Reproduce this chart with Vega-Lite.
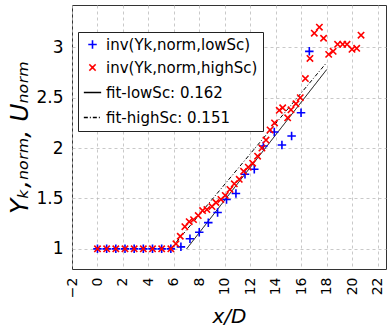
{
  "$schema": "https://vega.github.io/schema/vega-lite/v6.json",
  "width": 314,
  "height": 264,
  "autosize": {"type": "none"},
  "padding": {"left": 72, "top": 5, "right": 2, "bottom": 67},
  "background": "white",
  "config": {
    "font": "DejaVu Sans",
    "view": {"stroke": "#333333", "strokeWidth": 1},
    "axis": {
      "grid": true,
      "gridDash": [3, 3],
      "gridColor": "#bbbbbb",
      "gridWidth": 0.8,
      "domain": false,
      "ticks": false,
      "labelColor": "black",
      "titleColor": "black",
      "titleFontWeight": "normal",
      "titleFontStyle": "italic",
      "labelOverlap": false,
      "labelFlush": false
    }
  },
  "datasets": {
    "pts": [
      {"series": "inv(Yk,norm,lowSc)", "x": 0, "y": 1},
      {"series": "inv(Yk,norm,lowSc)", "x": 0.72, "y": 1},
      {"series": "inv(Yk,norm,lowSc)", "x": 1.44, "y": 1},
      {"series": "inv(Yk,norm,lowSc)", "x": 2.16, "y": 1},
      {"series": "inv(Yk,norm,lowSc)", "x": 2.88, "y": 1},
      {"series": "inv(Yk,norm,lowSc)", "x": 3.6, "y": 1},
      {"series": "inv(Yk,norm,lowSc)", "x": 4.32, "y": 1},
      {"series": "inv(Yk,norm,lowSc)", "x": 5.04, "y": 1},
      {"series": "inv(Yk,norm,lowSc)", "x": 5.76, "y": 1},
      {"series": "inv(Yk,norm,lowSc)", "x": 6.55, "y": 1.02},
      {"series": "inv(Yk,norm,lowSc)", "x": 7.26, "y": 1.1},
      {"series": "inv(Yk,norm,lowSc)", "x": 7.99, "y": 1.165},
      {"series": "inv(Yk,norm,lowSc)", "x": 8.7, "y": 1.26},
      {"series": "inv(Yk,norm,lowSc)", "x": 9.43, "y": 1.36},
      {"series": "inv(Yk,norm,lowSc)", "x": 10.13, "y": 1.49},
      {"series": "inv(Yk,norm,lowSc)", "x": 10.87, "y": 1.55},
      {"series": "inv(Yk,norm,lowSc)", "x": 11.58, "y": 1.74},
      {"series": "inv(Yk,norm,lowSc)", "x": 12.31, "y": 1.79},
      {"series": "inv(Yk,norm,lowSc)", "x": 13.02, "y": 2.02},
      {"series": "inv(Yk,norm,lowSc)", "x": 13.88, "y": 2.16},
      {"series": "inv(Yk,norm,lowSc)", "x": 14.48, "y": 2.03},
      {"series": "inv(Yk,norm,lowSc)", "x": 15.24, "y": 2.12},
      {"series": "inv(Yk,norm,lowSc)", "x": 15.98, "y": 2.35},
      {"series": "inv(Yk,norm,lowSc)", "x": 16.63, "y": 2.96},
      {"series": "inv(Yk,norm,highSc)", "x": 0, "y": 1},
      {"series": "inv(Yk,norm,highSc)", "x": 0.72, "y": 1},
      {"series": "inv(Yk,norm,highSc)", "x": 1.44, "y": 1},
      {"series": "inv(Yk,norm,highSc)", "x": 2.16, "y": 1},
      {"series": "inv(Yk,norm,highSc)", "x": 2.88, "y": 1},
      {"series": "inv(Yk,norm,highSc)", "x": 3.6, "y": 1},
      {"series": "inv(Yk,norm,highSc)", "x": 4.32, "y": 1},
      {"series": "inv(Yk,norm,highSc)", "x": 5.04, "y": 1},
      {"series": "inv(Yk,norm,highSc)", "x": 5.76, "y": 1},
      {"series": "inv(Yk,norm,highSc)", "x": 6.16, "y": 1.05},
      {"series": "inv(Yk,norm,highSc)", "x": 6.5, "y": 1.125},
      {"series": "inv(Yk,norm,highSc)", "x": 6.86, "y": 1.22},
      {"series": "inv(Yk,norm,highSc)", "x": 7.2, "y": 1.27},
      {"series": "inv(Yk,norm,highSc)", "x": 7.54, "y": 1.29},
      {"series": "inv(Yk,norm,highSc)", "x": 7.91, "y": 1.33},
      {"series": "inv(Yk,norm,highSc)", "x": 8.25, "y": 1.38},
      {"series": "inv(Yk,norm,highSc)", "x": 8.59, "y": 1.39},
      {"series": "inv(Yk,norm,highSc)", "x": 8.99, "y": 1.42},
      {"series": "inv(Yk,norm,highSc)", "x": 9.3, "y": 1.46},
      {"series": "inv(Yk,norm,highSc)", "x": 9.69, "y": 1.49},
      {"series": "inv(Yk,norm,highSc)", "x": 10.03, "y": 1.53},
      {"series": "inv(Yk,norm,highSc)", "x": 10.4, "y": 1.59},
      {"series": "inv(Yk,norm,highSc)", "x": 10.74, "y": 1.645},
      {"series": "inv(Yk,norm,highSc)", "x": 11.13, "y": 1.69},
      {"series": "inv(Yk,norm,highSc)", "x": 11.47, "y": 1.77},
      {"series": "inv(Yk,norm,highSc)", "x": 11.84, "y": 1.81},
      {"series": "inv(Yk,norm,highSc)", "x": 12.18, "y": 1.85},
      {"series": "inv(Yk,norm,highSc)", "x": 12.57, "y": 1.92},
      {"series": "inv(Yk,norm,highSc)", "x": 12.91, "y": 2.0},
      {"series": "inv(Yk,norm,highSc)", "x": 13.23, "y": 2.08},
      {"series": "inv(Yk,norm,highSc)", "x": 13.55, "y": 2.18},
      {"series": "inv(Yk,norm,highSc)", "x": 13.9, "y": 2.25},
      {"series": "inv(Yk,norm,highSc)", "x": 14.27, "y": 2.375},
      {"series": "inv(Yk,norm,highSc)", "x": 14.54, "y": 2.4},
      {"series": "inv(Yk,norm,highSc)", "x": 14.93, "y": 2.3},
      {"series": "inv(Yk,norm,highSc)", "x": 15.19, "y": 2.38},
      {"series": "inv(Yk,norm,highSc)", "x": 15.58, "y": 2.44},
      {"series": "inv(Yk,norm,highSc)", "x": 15.92, "y": 2.5},
      {"series": "inv(Yk,norm,highSc)", "x": 16.32, "y": 2.69},
      {"series": "inv(Yk,norm,highSc)", "x": 16.68, "y": 2.89},
      {"series": "inv(Yk,norm,highSc)", "x": 17.02, "y": 3.14},
      {"series": "inv(Yk,norm,highSc)", "x": 17.42, "y": 3.2},
      {"series": "inv(Yk,norm,highSc)", "x": 17.75, "y": 3.09},
      {"series": "inv(Yk,norm,highSc)", "x": 18.15, "y": 2.93},
      {"series": "inv(Yk,norm,highSc)", "x": 18.5, "y": 2.96},
      {"series": "inv(Yk,norm,highSc)", "x": 18.85, "y": 3.03},
      {"series": "inv(Yk,norm,highSc)", "x": 19.25, "y": 3.03},
      {"series": "inv(Yk,norm,highSc)", "x": 19.59, "y": 3.03},
      {"series": "inv(Yk,norm,highSc)", "x": 19.98, "y": 2.98},
      {"series": "inv(Yk,norm,highSc)", "x": 20.35, "y": 2.99},
      {"series": "inv(Yk,norm,highSc)", "x": 20.69, "y": 3.12}
    ],
    "fits": [
      {"series": "fit-lowSc: 0.162", "x": 7.0, "y": 1.0},
      {"series": "fit-lowSc: 0.162", "x": 18.0, "y": 2.78},
      {"series": "fit-highSc: 0.151", "x": 5.75, "y": 1.0},
      {"series": "fit-highSc: 0.151", "x": 18.0, "y": 2.85}
    ]
  },
  "encoding": {
    "x": {
      "field": "x", "type": "quantitative",
      "scale": {"domain": [-2, 22.65], "nice": false, "zero": false},
      "axis": {
        "values": [-2, 0, 2, 4, 6, 8, 10, 12, 14, 16, 18, 20, 22],
        "labelAngle": 270, "labelAlign": "right", "labelBaseline": "middle",
        "labelFontSize": 14, "labelPadding": 8,
        "labelOverlap": false, "labelFlush": false, "labelBound": false, "labelSeparation": 0,
        "title": "x/D", "titleFontSize": 20, "titlePadding": 9
      }
    },
    "y": {
      "field": "y", "type": "quantitative",
      "scale": {"domain": [0.8, 3.42], "nice": false, "zero": false},
      "axis": {
        "values": [1, 1.5, 2, 2.5, 3],
        "format": "~g",
        "labelFontSize": 17, "labelPadding": 9,
        "title": "Yₖ,ₙₒᵣₘ, Uₙₒᵣₘ", "titleFontSize": 25, "titlePadding": 3
      }
    }
  },
  "layer": [
    {
      "data": {"name": "fits"},
      "mark": {"type": "line", "strokeWidth": 1},
      "encoding": {
        "color": {
          "field": "series", "type": "nominal",
          "scale": {
            "domain": ["inv(Yk,norm,lowSc)", "inv(Yk,norm,highSc)", "fit-lowSc: 0.162", "fit-highSc: 0.151"],
            "range": ["#0000ff", "#ff0000", "#000000", "#000000"]
          },
          "legend": {
            "title": null, "orient": "none", "legendX": 6, "legendY": 27,
            "labelFontSize": 15, "labelLimit": 400, "labelColor": "black",
            "strokeColor": "#222222", "fillColor": "white", "padding": 5,
            "rowPadding": 7, "symbolStrokeWidth": 1.6
          }
        },
        "strokeDash": {
          "field": "series", "type": "nominal",
          "scale": {
            "domain": ["inv(Yk,norm,lowSc)", "inv(Yk,norm,highSc)", "fit-lowSc: 0.162", "fit-highSc: 0.151"],
            "range": [[1, 0], [1, 0], [1, 0], [4, 2, 1, 2]]
          },
          "legend": {"title": null}
        }
      }
    },
    {
      "data": {"name": "pts"},
      "mark": {"type": "point", "filled": false, "strokeWidth": 1.6, "opacity": 1},
      "encoding": {
        "color": {"field": "series", "type": "nominal"},
        "shape": {
          "field": "series", "type": "nominal",
          "scale": {
            "domain": ["inv(Yk,norm,lowSc)", "inv(Yk,norm,highSc)", "fit-lowSc: 0.162", "fit-highSc: 0.151"],
            "range": ["M-1,0L1,0M0,-1L0,1", "M-0.75,-0.75L0.75,0.75M-0.75,0.75L0.75,-0.75", "stroke", "stroke"]
          },
          "legend": {"title": null}
        },
        "size": {
          "field": "series", "type": "nominal",
          "scale": {
            "type": "ordinal",
            "domain": ["inv(Yk,norm,lowSc)", "inv(Yk,norm,highSc)", "fit-lowSc: 0.162", "fit-highSc: 0.151"],
            "range": [72, 72, 300, 300]
          },
          "legend": {"title": null}
        }
      }
    }
  ]
}
